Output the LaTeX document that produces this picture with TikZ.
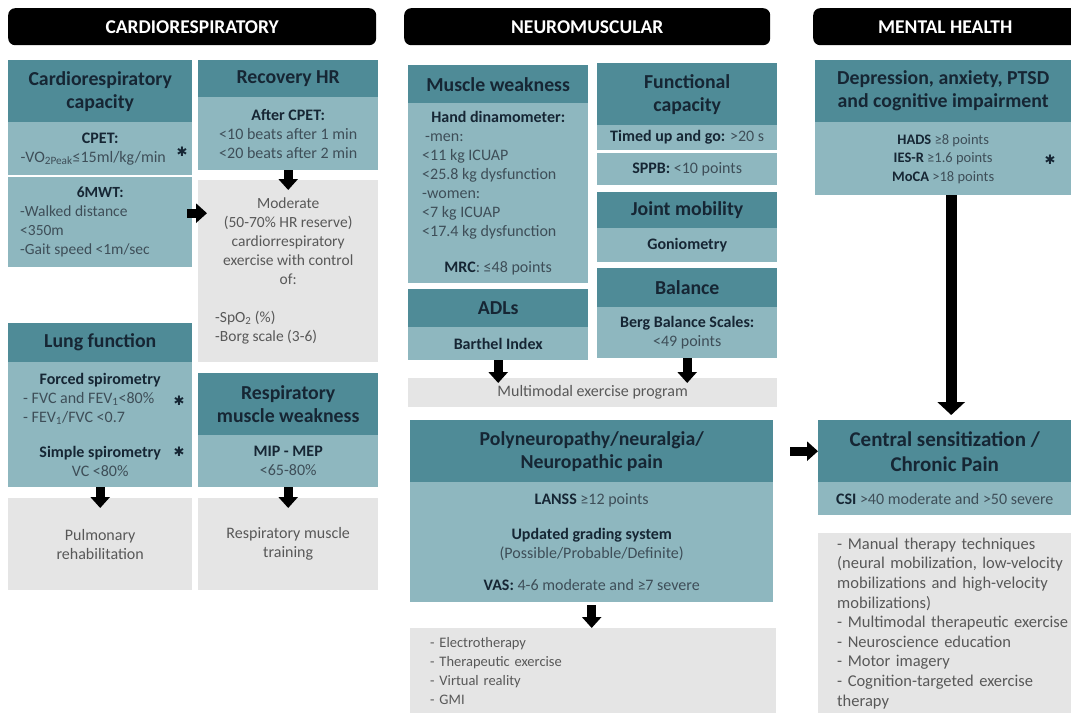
\documentclass[tikz,border=0pt]{standalone}
\usepackage{fontspec}
\setmainfont{Carlito}
\newfontfamily\symfont{DejaVu Sans}
\usepackage{xcolor}
\usetikzlibrary{arrows.meta}

\definecolor{hdteal}{RGB}{79,139,151}
\definecolor{bdteal}{RGB}{142,183,191}
\definecolor{boxgray}{RGB}{229,229,229}
\definecolor{navytxt}{RGB}{22,38,52}
\definecolor{bodytxt}{RGB}{62,78,88}
\definecolor{graytxt}{RGB}{88,88,88}

\newcommand\hdfont{\fontsize{19.8}{23}\selectfont\bfseries}
\newcommand\bdfont{\fontsize{16}{19}\selectfont}
\newcommand\ttlfont{\fontsize{19.5}{20}\selectfont\bfseries}
\newcommand\kw[1]{{\color{navytxt}\bfseries #1}}

\begin{document}
\begin{tikzpicture}[x=1pt,y=-1pt,
  ttl/.style={anchor=north west, fill=black, text=white, font=\ttlfont, rounded corners=7pt, minimum height=37, inner sep=0pt},
  hd/.style={anchor=north west, fill=hdteal, text=navytxt, font=\hdfont, align=center, inner sep=0pt},
  bd/.style={anchor=north west, fill=bdteal, text=bodytxt, font=\bdfont, align=center, inner sep=0pt},
  tx/.style={anchor=north west, fill=boxgray, text=graytxt, font=\bdfont, align=center, inner sep=0pt},
  ast/.style={font=\symfont\fontsize{13}{13}\selectfont, text=navytxt, inner sep=0pt},
  arr/.style={line width=9pt, -{Triangle[width=19pt,length=11pt]}},
  arrbig/.style={line width=11pt, -{Triangle[width=27pt,length=13pt]}}
]
\useasboundingbox (0,0) rectangle (1071,713);

% column titles
\node[ttl, minimum width=368] (ttlcardio) at (8,8) {CARDIORESPIRATORY};
\node[ttl, minimum width=366] (ttlneuro) at (404,8) {NEUROMUSCULAR};
\node[ttl, minimum width=276] (ttlmental) at (813,8) {\hspace*{-12pt}MENTAL HEALTH};

% cardiorespiratory
\node[hd, minimum width=184, minimum height=62] (caphd) at (8,60) {Cardiorespiratory\\capacity};
\node[bd, minimum width=184, minimum height=53] (capbd) at (8,122) {\kw{CPET:}\\-VO\textsubscript{2Peak}≤15ml/kg/min\hspace*{14pt}};
\node[bd, minimum width=184, minimum height=90, font=\fontsize{15.5}{19}\selectfont] (sixmwt) at (8,177) {\kw{6MWT:}\\\makebox[160pt][l]{-Walked distance}\\\makebox[160pt][l]{<350m}\\\makebox[160pt][l]{-Gait speed <1m/sec}};
\node[hd, minimum width=180, minimum height=37] (rhrhd) at (198,60) {Recovery HR};
\node[bd, minimum width=180, minimum height=73] (rhrbd) at (198,97) {\kw{After CPET:}\\<10 beats after 1 min\\<20 beats after 2 min};
\node[tx, minimum width=180, minimum height=182, font=\fontsize{15.5}{19}\selectfont] (moder) at (198,180) {Moderate\\(50-70\% HR reserve)\\cardiorrespiratory\\exercise with control\\of:\\[19pt]\makebox[146pt][l]{-SpO\textsubscript{2} (\%)}\\\makebox[146pt][l]{-Borg scale (3-6)}};
\node[hd, minimum width=184, minimum height=39] (lunghd) at (8,323) {Lung function};
\node[bd, minimum width=184, minimum height=125] (lungbd) at (8,362) {\kw{Forced spirometry}\\\makebox[154pt][l]{- FVC and FEV\textsubscript{1}<80\%}\\\makebox[154pt][l]{- FEV\textsubscript{1}/FVC <0.7}\\[16pt]\kw{Simple spirometry}\\VC <80\%};
\node[hd, minimum width=180, minimum height=62] (rmwhd) at (198,373) {Respiratory\\muscle weakness};
\node[bd, minimum width=180, minimum height=52] (rmwbd) at (198,435) {\kw{MIP - MEP}\\<65-80\%};
\node[tx, minimum width=184, minimum height=92] (pulm) at (8,498) {Pulmonary\\rehabilitation};
\node[tx, minimum width=180, minimum height=92] (rmt) at (198,498) {Respiratory muscle\\training};
\node[ast] (ast1) at (182,152) {✱};
\node[ast] (ast2) at (179,401) {✱};
\node[ast] (ast3) at (179,452) {✱};

% neuromuscular
\node[hd, minimum width=180, minimum height=38] (mwhd) at (408,65) {Muscle weakness};
\node[bd, minimum width=180, minimum height=180] (mwbd) at (408,103) {\kw{Hand dinamometer:}\\\makebox[152pt][l]{\hspace*{3pt}-men:}\\\makebox[152pt][l]{<11 kg ICUAP}\\\makebox[152pt][l]{<25.8 kg dysfunction}\\\makebox[152pt][l]{-women:}\\\makebox[152pt][l]{<7 kg ICUAP}\\\makebox[152pt][l]{<17.4 kg dysfunction}\\[17pt]\kw{MRC}: ≤48 points};
\node[hd, minimum width=180, minimum height=62] (fchd) at (597,63) {Functional\\capacity};
\node[bd, minimum width=180, minimum height=25] (tug) at (597,125) {\kw{Timed up and go:} >20 s};
\node[bd, minimum width=180, minimum height=32] (sppb) at (597,153) {\kw{SPPB:} <10 points};
\node[hd, minimum width=180, minimum height=36] (jmhd) at (597,192) {Joint mobility};
\node[bd, minimum width=180, minimum height=34] (gonio) at (597,228) {\kw{Goniometry}};
\node[hd, minimum width=180, minimum height=39] (balhd) at (597,268) {Balance};
\node[bd, minimum width=180, minimum height=51] (balbd) at (597,307) {\kw{Berg Balance Scales:}\\<49 points};
\node[hd, minimum width=180, minimum height=38] (adlhd) at (408,289) {ADLs};
\node[bd, minimum width=180, minimum height=33] (adlbd) at (408,327) {\kw{Barthel Index}};
\node[tx, minimum width=369, minimum height=29] (multi) at (408,378) {Multimodal exercise program};
\node[hd, minimum width=363, minimum height=62] (polyhd) at (410,420) {Polyneuropathy/neuralgia/\\Neuropathic pain};
\node[bd, minimum width=363, minimum height=120] (polybd) at (410,482) {\kw{LANSS} ≥12 points\\[16pt]\kw{Updated grading system}\\(Possible/Probable/Definite)\\[13pt]\kw{VAS:} 4-6 moderate and ≥7 severe};
\node[tx, minimum width=366, minimum height=85, align=left, text width=326, inner xsep=20pt, font=\fontsize{14.5}{19}\selectfont] (neurotx) at (410,628) {- Electrotherapy\\- Therapeutic exercise\\- Virtual reality\\- GMI};

% mental health
\node[hd, minimum width=256, minimum height=62] (dephd) at (815,60) {Depression, anxiety, PTSD\\and cognitive impairment};
\node[bd, minimum width=256, minimum height=73, font=\fontsize{14.5}{18.5}\selectfont] (depbd) at (815,122) {\kw{HADS} ≥8 points\\\kw{IES-R} ≥1.6 points\\\kw{MoCA} >18 points};
\node[ast] (ast4) at (1050,160) {✱};
\node[hd, minimum width=253, minimum height=62, font=\fontsize{21}{25}\selectfont\bfseries] (cenhd) at (818,420) {Central sensitization /\\Chronic Pain};
\node[bd, minimum width=253, minimum height=33] (cenbd) at (818,482) {\kw{CSI} >40 moderate and >50 severe};
\node[tx, minimum height=180, align=left, text width=245, inner xsep=19pt, font=\fontsize{16.5}{19.6}\selectfont] (centx) at (818,533) {- Manual therapy techniques\\(neural mobilization, low-velocity\\mobilizations and high-velocity\\mobilizations)\\- Multimodal therapeutic exercise\\- Neuroscience education\\- Motor imagery\\- Cognition-targeted exercise\\therapy};

% arrows
\coordinate (m6) at ([yshift=9pt]sixmwt.east);
\draw[arr, shorten <=-5pt, shorten >=-9pt] (m6) -- (m6 -| moder.west);
\draw[arr, shorten >=-10pt] (rhrbd.south) -- (moder.north);
\draw[arr, shorten >=-10pt] (lungbd.south) -- (pulm.north);
\draw[arr, shorten >=-10pt] (rmwbd.south) -- (rmt.north);
\draw[arr, shorten >=-5pt] (adlbd.south) -- (adlbd.south |- multi.north);
\draw[arr, shorten >=-5pt] (balbd.south) -- (balbd.south |- multi.north);
\draw[arr, shorten <=3pt] (polybd.south) -- (polybd.south |- neurotx.north);
\draw[arr, shorten <=17pt] (polyhd.east) -- (cenhd.west);
\coordinate (dp) at ([xshift=8pt]depbd.south);
\draw[arrbig, shorten >=5pt] (dp) -- (dp |- cenhd.north);

\end{tikzpicture}
\end{document}
